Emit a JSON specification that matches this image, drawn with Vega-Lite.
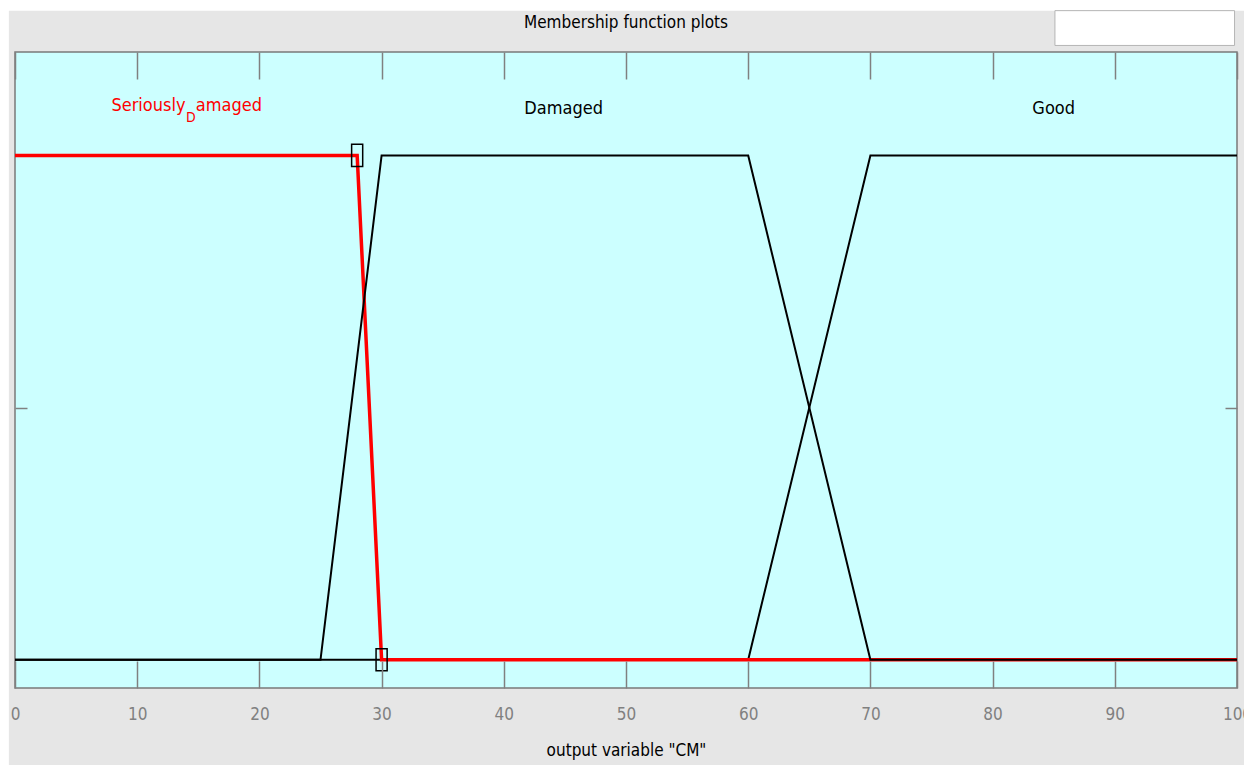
{
  "$schema": "https://vega.github.io/schema/vega-lite/v6.json",
  "description": "Fuzzy membership function plots for output variable CM.",
  "width": 1222,
  "height": 636,
  "autosize": {"type": "none"},
  "padding": {"left": 15, "top": 52, "right": 7, "bottom": 77},
  "background": "white",
  "title": {
    "text": "Membership function plots",
    "font": "Liberation Sans Narrow, DejaVu Sans Condensed, sans-serif",
    "fontSize": 17,
    "fontWeight": "normal",
    "color": "#000000",
    "anchor": "middle",
    "offset": -22
  },
  "config": {"view": {"stroke": null, "fill": null}},
  "resolve": {"axis": {"x": "independent", "y": "independent"}},
  "datasets": {
    "mfs": [
      {"mf": "Good", "x": 0, "y": 0, "i": 0},
      {"mf": "Good", "x": 60, "y": 0, "i": 1},
      {"mf": "Good", "x": 70, "y": 1, "i": 2},
      {"mf": "Good", "x": 100, "y": 1, "i": 3},
      {"mf": "Seriously_Damaged", "x": 0, "y": 1, "i": 0},
      {"mf": "Seriously_Damaged", "x": 28, "y": 1, "i": 1},
      {"mf": "Seriously_Damaged", "x": 30, "y": 0, "i": 2},
      {"mf": "Seriously_Damaged", "x": 100, "y": 0, "i": 3},
      {"mf": "Damaged", "x": 0, "y": 0, "i": 0},
      {"mf": "Damaged", "x": 25, "y": 0, "i": 1},
      {"mf": "Damaged", "x": 30, "y": 1, "i": 2},
      {"mf": "Damaged", "x": 60, "y": 1, "i": 3},
      {"mf": "Damaged", "x": 70, "y": 0, "i": 4},
      {"mf": "Damaged", "x": 100, "y": 0, "i": 5}
    ],
    "params": [
      {"x": 28, "y": 1},
      {"x": 30, "y": 0}
    ],
    "labels": [
      {"label": "Damaged", "x": 44.9, "y": 1.083},
      {"label": "Good", "x": 85.0, "y": 1.083}
    ],
    "selected": [
      {"piece": "Seriously", "x": 13.95, "y": 1.089},
      {"piece": "D", "x": 14.4, "y": 1.066},
      {"piece": "amaged", "x": 14.8, "y": 1.089}
    ]
  },
  "layer": [
    {
      "data": {"values": [{}]},
      "mark": {"type": "rect", "fill": "#e6e6e6"},
      "encoding": {
        "x": {"datum": -0.5, "type": "quantitative", "scale": {"domain": [0, 100], "nice": false, "zero": false}, "axis": null},
        "x2": {"datum": 103},
        "y": {"datum": -0.5, "type": "quantitative", "scale": {"domain": [-0.056, 1.205], "nice": false, "zero": false}, "axis": null},
        "y2": {"datum": 1.287}
      }
    },
    {
      "data": {"values": [{}]},
      "mark": {"type": "rect", "fill": "#ccffff", "stroke": "#7a7a7a", "strokeWidth": 1.5},
      "encoding": {
        "x": {"datum": 0, "type": "quantitative", "scale": {"domain": [0, 100], "nice": false, "zero": false}, "axis": null},
        "x2": {"datum": 100},
        "y": {"datum": -0.056, "type": "quantitative", "scale": {"domain": [-0.056, 1.205], "nice": false, "zero": false}, "axis": null},
        "y2": {"datum": 1.205}
      }
    },
    {
      "data": {"values": [{}]},
      "mark": {"type": "rect", "fill": "#ffffff", "stroke": "#b4b4b4", "strokeWidth": 1},
      "encoding": {
        "x": {"datum": 85.1, "type": "quantitative", "scale": {"domain": [0, 100], "nice": false, "zero": false}, "axis": null},
        "x2": {"datum": 99.8},
        "y": {"datum": 1.218, "type": "quantitative", "scale": {"domain": [-0.056, 1.205], "nice": false, "zero": false}, "axis": null},
        "y2": {"datum": 1.287}
      }
    },
    {
      "data": {"name": "mfs"},
      "transform": [{"filter": "datum.mf === 'Good'"}],
      "mark": {"type": "line", "color": "#000000", "strokeWidth": 2},
      "encoding": {
        "x": {
          "field": "x", "type": "quantitative",
          "scale": {"domain": [0, 100], "nice": false, "zero": false},
          "axis": {
            "orient": "bottom",
            "values": [0, 10, 20, 30, 40, 50, 60, 70, 80, 90, 100],
            "grid": false, "domain": false, "zindex": 1,
            "tickSize": -27, "tickColor": "#808080", "tickWidth": 1.5,
            "labelFont": "Liberation Sans Narrow, DejaVu Sans Condensed, sans-serif",
            "labelFontSize": 17, "labelColor": "#808080",
            "labelPadding": 45, "labelFlush": false, "labelOverlap": false,
            "title": "output variable \"CM\"",
            "titleFont": "Liberation Sans Narrow, DejaVu Sans Condensed, sans-serif",
            "titleFontSize": 17, "titleFontWeight": "normal", "titleColor": "#000000",
            "titlePadding": 20
          }
        },
        "y": {
          "field": "y", "type": "quantitative",
          "scale": {"domain": [-0.056, 1.205], "nice": false, "zero": false},
          "axis": {
            "orient": "left", "values": [0.5],
            "grid": false, "domain": false, "labels": false, "title": null, "zindex": 1,
            "tickSize": -12, "tickColor": "#808080", "tickWidth": 1.5
          }
        },
        "order": {"field": "i"}
      }
    },
    {
      "data": {"name": "mfs"},
      "transform": [{"filter": "datum.mf === 'Seriously_Damaged'"}],
      "mark": {"type": "line", "color": "#ff0000", "strokeWidth": 3.5},
      "encoding": {
        "x": {"field": "x", "type": "quantitative", "scale": {"domain": [0, 100], "nice": false, "zero": false}, "axis": null},
        "y": {"field": "y", "type": "quantitative", "scale": {"domain": [-0.056, 1.205], "nice": false, "zero": false}, "axis": null},
        "order": {"field": "i"}
      }
    },
    {
      "data": {"name": "mfs"},
      "transform": [{"filter": "datum.mf === 'Damaged'"}],
      "mark": {"type": "line", "color": "#000000", "strokeWidth": 2},
      "encoding": {
        "x": {
          "field": "x", "type": "quantitative",
          "scale": {"domain": [0, 100], "nice": false, "zero": false},
          "axis": {
            "orient": "top",
            "values": [0, 10, 20, 30, 40, 50, 60, 70, 80, 90, 100],
            "grid": false, "domain": false, "labels": false, "title": null, "zindex": 1,
            "tickSize": -27, "tickColor": "#808080", "tickWidth": 1.5
          }
        },
        "y": {
          "field": "y", "type": "quantitative",
          "scale": {"domain": [-0.056, 1.205], "nice": false, "zero": false},
          "axis": {
            "orient": "right", "values": [0.5],
            "grid": false, "domain": false, "labels": false, "title": null, "zindex": 1,
            "tickSize": -12, "tickColor": "#808080", "tickWidth": 1.5
          }
        },
        "order": {"field": "i"}
      }
    },
    {
      "data": {"name": "params"},
      "mark": {"type": "point", "shape": "M-0.5,-1H0.5V1H-0.5Z", "size": 490, "filled": false, "color": "#000000", "strokeWidth": 1.5, "opacity": 1},
      "encoding": {
        "x": {"field": "x", "type": "quantitative", "scale": {"domain": [0, 100], "nice": false, "zero": false}, "axis": null},
        "y": {"field": "y", "type": "quantitative", "scale": {"domain": [-0.056, 1.205], "nice": false, "zero": false}, "axis": null}
      }
    },
    {
      "data": {"name": "labels"},
      "mark": {"type": "text", "font": "Liberation Sans Narrow, DejaVu Sans Condensed, sans-serif", "fontSize": 18, "color": "#000000", "align": "center", "baseline": "alphabetic"},
      "encoding": {
        "x": {"field": "x", "type": "quantitative", "scale": {"domain": [0, 100], "nice": false, "zero": false}, "axis": null},
        "y": {"field": "y", "type": "quantitative", "scale": {"domain": [-0.056, 1.205], "nice": false, "zero": false}, "axis": null},
        "text": {"field": "label"}
      }
    },
    {
      "data": {"name": "selected"},
      "transform": [{"filter": "datum.piece === 'Seriously'"}],
      "mark": {"type": "text", "font": "Liberation Sans Narrow, DejaVu Sans Condensed, sans-serif", "fontSize": 18, "color": "#ff0000", "align": "right", "baseline": "alphabetic"},
      "encoding": {
        "x": {"field": "x", "type": "quantitative", "scale": {"domain": [0, 100], "nice": false, "zero": false}, "axis": null},
        "y": {"field": "y", "type": "quantitative", "scale": {"domain": [-0.056, 1.205], "nice": false, "zero": false}, "axis": null},
        "text": {"field": "piece"}
      }
    },
    {
      "data": {"name": "selected"},
      "transform": [{"filter": "datum.piece === 'D'"}],
      "mark": {"type": "text", "font": "Liberation Sans Narrow, DejaVu Sans Condensed, sans-serif", "fontSize": 14, "color": "#ff0000", "align": "center", "baseline": "alphabetic"},
      "encoding": {
        "x": {"field": "x", "type": "quantitative", "scale": {"domain": [0, 100], "nice": false, "zero": false}, "axis": null},
        "y": {"field": "y", "type": "quantitative", "scale": {"domain": [-0.056, 1.205], "nice": false, "zero": false}, "axis": null},
        "text": {"field": "piece"}
      }
    },
    {
      "data": {"name": "selected"},
      "transform": [{"filter": "datum.piece === 'amaged'"}],
      "mark": {"type": "text", "font": "Liberation Sans Narrow, DejaVu Sans Condensed, sans-serif", "fontSize": 18, "color": "#ff0000", "align": "left", "baseline": "alphabetic"},
      "encoding": {
        "x": {"field": "x", "type": "quantitative", "scale": {"domain": [0, 100], "nice": false, "zero": false}, "axis": null},
        "y": {"field": "y", "type": "quantitative", "scale": {"domain": [-0.056, 1.205], "nice": false, "zero": false}, "axis": null},
        "text": {"field": "piece"}
      }
    }
  ]
}
